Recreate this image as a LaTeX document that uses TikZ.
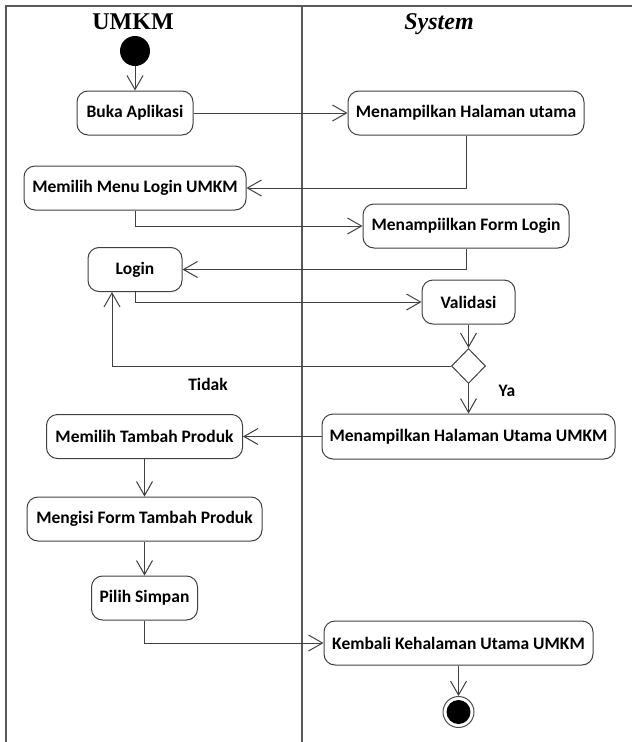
\documentclass[tikz,border=0pt]{standalone}
\usepackage{fontspec}
\setmainfont{Liberation Serif}
\newfontfamily\boxfont{Carlito}
\usetikzlibrary{arrows.meta,shapes.geometric}
\begin{document}
\begin{tikzpicture}[x=1pt,y=-1pt,
  act/.style={draw=black!75, line width=1pt, rounded corners=11pt,
    font=\boxfont\bfseries\fontsize{17.5}{19}\selectfont,
    inner sep=0pt, minimum height=44pt, align=center},
  flow/.style={draw=black!75, line width=1pt,
    -{Straight Barb[length=14pt,width=16pt,line width=1pt]}},
  lbl/.style={font=\boxfont\bfseries\fontsize{17.5}{19}\selectfont, inner sep=0pt},
  title/.style={font=\bfseries\fontsize{24}{26}\selectfont, anchor=base, inner sep=0pt},
  frame/.style={draw=black!65, line width=1.6pt}
]
\useasboundingbox (0,0) rectangle (632,742);
% swimlane frame
\draw[frame] (6,742) -- (6,6) -- (632,6);
\draw[frame, line width=1.2pt] (302,6) -- (302,742);
\node[title] (t1) at (133,29) {UMKM};
\node[title, font=\bfseries\itshape\fontsize{24}{26}\selectfont] (t2) at (439,29) {System};

% nodes
\node[circle, fill=black, minimum size=30pt, inner sep=0pt] (start) at (135,51) {};
\node[act, minimum width=116pt] (buka) at (135,113) {Buka Aplikasi};
\node[act, minimum width=236pt] (mhu) at (466,113) {Menampilkan Halaman utama};
\node[act, minimum width=222pt] (mml) at (135,188) {Memilih Menu Login UMKM};
\node[act, minimum width=206pt] (mfl) at (466,226) {Menampiilkan Form Login};
\node[act, minimum width=94pt] (login) at (135,269.5) {Login};
\node[act, minimum width=93pt] (val) at (468.5,302) {Validasi};
\node[diamond, draw=black!75, line width=1pt, minimum width=34pt, minimum height=35pt, inner sep=0pt] (dec) at (468.5,366) {};
\node[act, minimum width=293pt, minimum height=45pt] (mhuu) at (468.5,436.5) {Menampilkan Halaman Utama UMKM};
\node[act, minimum width=196pt] (mtp) at (144.5,436.5) {Memilih Tambah Produk};
\node[act, minimum width=235pt] (mft) at (144.5,519) {Mengisi Form Tambah Produk};
\node[act, minimum width=106pt] (ps) at (144.5,598) {Pilih Simpan};
\node[act, minimum width=269pt] (kem) at (458.5,643) {Kembali Kehalaman Utama UMKM};
\node[circle, draw=black!70, line width=1pt, minimum size=31pt, inner sep=0pt] (endo) at (458.5,712) {};
\node[circle, fill=black, minimum size=24pt, inner sep=0pt] (endi) at (458.5,712) {};

\node[lbl] (tidak) at (208,384) {Tidak};
\node[lbl] (ya) at (507,391) {Ya};

% connectors
\draw[flow] (start) -- (buka);
\draw[flow] (buka) -- (mhu);
\draw[flow] (mhu.south) |- (mml.east);
\draw[flow] (mml.south) |- (mfl.west);
\draw[flow] (mfl.south) |- (login.east);
\draw[flow] (login.south) |- (val.west);
\draw[flow] (val.south) -- (dec.north);
\draw[flow] (dec.west) -| ([xshift=-23pt]login.south);
\draw[flow] (dec.south) -- (mhuu.north);
\draw[flow] (mhuu.west) -- (mtp.east);
\draw[flow] (mtp) -- (mft);
\draw[flow] (mft) -- (ps);
\draw[flow] (ps.south) |- (kem.west);
\draw[flow] (kem.south) -- (endo.north);
\end{tikzpicture}
\end{document}
